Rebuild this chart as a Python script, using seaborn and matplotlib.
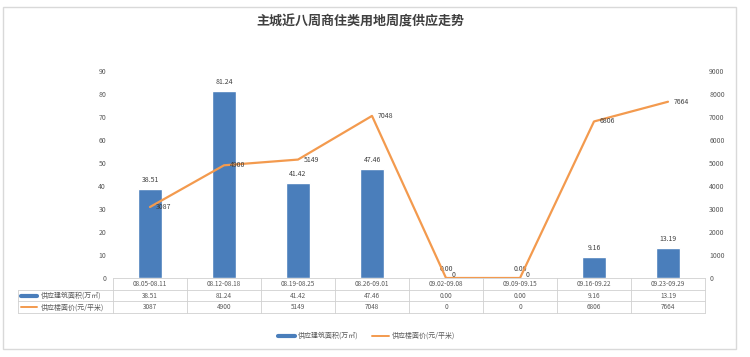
import numpy as np
import pandas as pd
import matplotlib
matplotlib.use("Agg")
import matplotlib.pyplot as plt
import seaborn as sns
from matplotlib.lines import Line2D
from matplotlib.patches import Rectangle

weeks = ["08.05-08.11", "08.12-08.18", "08.19-08.25", "08.26-09.01",
         "09.02-09.08", "09.09-09.15", "09.16-09.22", "09.23-09.29"]
area = [38.51, 81.24, 41.42, 47.46, 0.00, 0.00, 9.16, 13.19]
price = [3087, 4900, 5149, 7048, 0, 0, 6806, 7664]
area_name = "供应建筑面积(万㎡)"
price_name = "供应楼面价(元/平米)"
title = "主城近八周商住类用地周度供应走势"

BAR = "#4a7ebb"
LINE = "#f39a4e"
TXT = "#595959"

sns.set_theme(style="white")
plt.rcParams["font.family"] = ["Noto Sans CJK SC", "DejaVu Sans"]

df = pd.DataFrame({"week": weeks, "area": area, "price": price})

W, H = 750, 357
x0, x1, xl = 113, 705, 18
top, rh = 278, 11.7

fig = plt.figure(figsize=(7.5, 3.57), dpi=100)
ax = fig.add_axes([x0 / W, 1 - top / H, (x1 - x0) / W, (top - 71) / H])

sns.barplot(data=df, x="week", y="area", color=BAR, width=0.32, ax=ax,
            saturation=1)
ax.set_xlim(-0.5, 7.5)
ax.set_ylim(0, 90)
ax.set_yticks(range(0, 91, 10))
ax.set_xticks([])
ax.set_xlabel("")
ax.set_ylabel("")
ax.tick_params(axis="y", labelsize=5, colors=TXT, length=0, pad=5)
for s in ax.spines.values():
    s.set_visible(False)

for i, v in enumerate(area):
    ax.text(i, v + 2.2, f"{v:.2f}", ha="center", va="bottom", fontsize=5, color="#404040")

ax2 = ax.twinx()
sns.lineplot(x=np.arange(len(weeks)), y=price, color=LINE, lw=1.6, ax=ax2)
ax2.set_ylim(0, 9000)
ax2.set_yticks(range(0, 9001, 1000))
ax2.tick_params(axis="y", labelsize=5, colors=TXT, length=0, pad=3)
for s in ax2.spines.values():
    s.set_visible(False)
for i, v in enumerate(price):
    dy = 130 if v == 0 else 0
    ax2.text(i + 0.08, v + dy, f"{v}", ha="left", va="center", fontsize=5, color="#404040")

# data table under the plot
rows = [weeks, [f"{v:.2f}" for v in area], [f"{v}" for v in price]]
colw = (x1 - x0) / len(weeks)
gc = "#d0d0d0"


def fx(x):
    return x / W


def fy(y):
    return 1 - y / H


for r in range(4):
    y = top + r * rh
    left = x0 if r == 0 else xl
    fig.add_artist(Line2D([fx(left), fx(x1)], [fy(y), fy(y)], color=gc, lw=0.6))
fig.add_artist(Line2D([fx(xl), fx(xl)], [fy(top + rh), fy(top + 3 * rh)], color=gc, lw=0.6))
for c in range(len(weeks) + 1):
    xx = x0 + c * colw
    fig.add_artist(Line2D([fx(xx), fx(xx)], [fy(top), fy(top + 3 * rh)], color=gc, lw=0.6))
for r, vals in enumerate(rows):
    yc = top + (r + 0.5) * rh
    for c, t in enumerate(vals):
        fig.text(fx(x0 + (c + 0.5) * colw), fy(yc), t, ha="center", va="center",
                 fontsize=4.6, color=TXT)

fig.add_artist(Line2D([fx(21), fx(37)], [fy(top + 1.5 * rh)] * 2, color=BAR, lw=3))
fig.add_artist(Line2D([fx(21), fx(37)], [fy(top + 2.5 * rh)] * 2, color=LINE, lw=1.4))
fig.text(fx(41), fy(top + 1.5 * rh), area_name, ha="left", va="center", fontsize=5, color=TXT)
fig.text(fx(41), fy(top + 2.5 * rh), price_name, ha="left", va="center", fontsize=5, color=TXT)

# legend
fig.add_artist(Line2D([fx(278), fx(295)], [fy(336)] * 2, color=BAR, lw=3))
fig.text(fx(298), fy(336), area_name, ha="left", va="center", fontsize=5, color=TXT)
fig.add_artist(Line2D([fx(372), fx(389)], [fy(336)] * 2, color=LINE, lw=1.4))
fig.text(fx(392), fy(336), price_name, ha="left", va="center", fontsize=5, color=TXT)

fig.text(fx(360), fy(22), title, ha="center", va="center", fontsize=9.4,
         fontweight="bold", color="#404040")

fig.add_artist(Rectangle((fx(3), fy(349)), fx(733), (349 - 7) / H,
                         fill=False, edgecolor="#d9d9d9", lw=1))

fig.savefig("out.png", dpi=100, facecolor="white")
